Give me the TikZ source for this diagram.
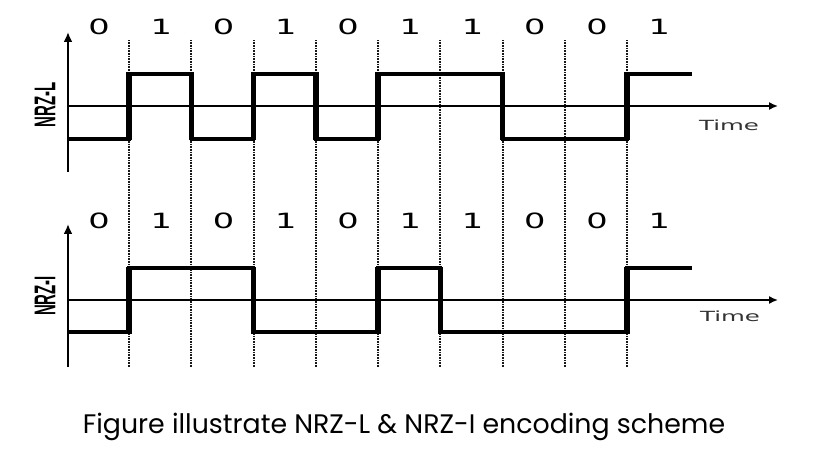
\documentclass[tikz,border=0pt]{standalone}
\usepackage{fontspec}
\setmainfont{Poppins}
\newfontfamily\digfont{DejaVu Sans}
\newfontfamily\sigfont{Liberation Sans}
\usetikzlibrary{arrows.meta}
\tikzset{
  axisline/.style={line width=1.6pt,-{Latex[length=9pt,width=8pt]}},
  yaxis/.style={line width=2pt,-{Latex[length=10pt,width=9pt]}},
  grid/.style={line width=2pt,dash pattern=on 0.8pt off 0.8pt,black!90},
  wave/.style={line width=3.2pt},
  edge/.style={line width=5.5pt},
  bit/.style={font=\digfont\fontsize{21}{21}\selectfont,inner sep=0pt},
  tlabel/.style={font=\digfont\fontsize{14}{14}\selectfont,text=black!80,inner sep=0pt},
  slabel/.style={font=\sigfont\bfseries\fontsize{30}{30}\selectfont,rotate=90,inner sep=0pt}
}
\begin{document}
\begin{tikzpicture}[x=1pt,y=-1pt]
\useasboundingbox (0,0) rectangle (830,457);
% dotted bit boundaries
\foreach \b in {129,191.25,253.5,315.75,378,440.25,502.5,564.75,627}
  \draw[grid] (\b,40) -- (\b,367);
% axes
\coordinate (ay1s) at (68,172); \coordinate (ay1e) at (68,32);
\coordinate (ax1s) at (68,106); \coordinate (ax1e) at (778,106);
\coordinate (ay2s) at (68,367); \coordinate (ay2e) at (68,224);
\coordinate (ax2s) at (68,300); \coordinate (ax2e) at (778,300);
\draw[yaxis] (ay1s) -- (ay1e);
\draw[axisline] (ax1s) -- (ax1e);
\draw[yaxis] (ay2s) -- (ay2e);
\draw[axisline] (ax2s) -- (ax2e);
% NRZ-L waveform
\draw[wave,line join=miter] (68,139) -- (129,139) -- (129,74) -- (191.25,74) -- (191.25,139) -- (253.5,139) -- (253.5,74)
  -- (315.75,74) -- (315.75,139) -- (378,139) -- (378,74) -- (502.5,74) -- (502.5,139) -- (627,139) -- (627,74) -- (692,74);
\foreach \b in {129,191.25,253.5,315.75,378,502.5,627}
  \draw[edge] (\b,140.5) -- (\b,72.5);
% NRZ-I waveform
\draw[wave,line join=miter] (68,332) -- (129,332) -- (129,268) -- (253.5,268) -- (253.5,332) -- (378,332) -- (378,268)
  -- (440.25,268) -- (440.25,332) -- (627,332) -- (627,268) -- (692,268);
\foreach \b in {129,253.5,378,440.25,627}
  \draw[edge] (\b,333.5) -- (\b,266.5);
% bit labels
\foreach \v [count=\i from 0] in {0,1,0,1,0,1,1,0,0,1} {
  \node[bit] (ta\i) at ({99+62.25*\i},27) {\scalebox{1.6}[1]{\v}};
  \node[bit] (tb\i) at ({99+62.25*\i},221) {\scalebox{1.6}[1]{\v}};
}
\node[tlabel] (time1) at (729,125) {\scalebox{1.75}[1]{Time}};
\node[tlabel] (time2) at (730,316) {\scalebox{1.75}[1]{Time}};
\node[slabel] (nrzl) at (45,105) {\scalebox{0.5}[1]{NRZ-L}};
\node[slabel] (nrzi) at (45,296) {\scalebox{0.5}[1]{NRZ-I}};
\node[font=\fontsize{26.8}{26.8}\selectfont,inner sep=0pt] (cap) at (404,427) {Figure illustrate NRZ-L \& NRZ-I encoding scheme};
\end{tikzpicture}
\end{document}
